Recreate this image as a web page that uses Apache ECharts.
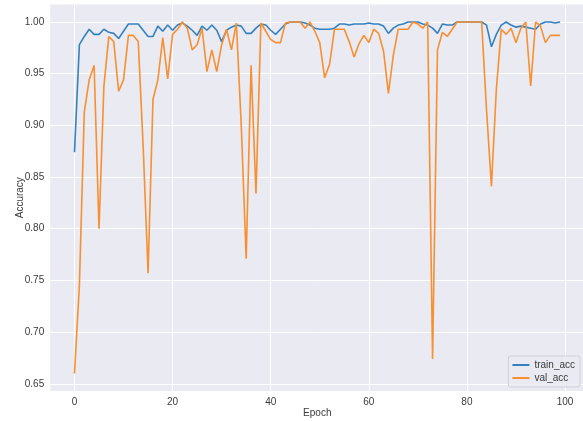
<!DOCTYPE html>
<html>
<head>
<meta charset="utf-8">
<script src="https://cdn.jsdelivr.net/npm/echarts@6/dist/echarts.min.js"></script>
<style>
  html, body { margin: 0; padding: 0; background: #ffffff; }
  #chart { width: 583px; height: 421px; }
</style>
</head>
<body>
<div id="chart"></div>
<script>
// Training history: accuracy per epoch
const epochs = Array.from({ length: 100 }, (_, i) => i);

const trainAcc = [
  0.874, 0.978, 0.986, 0.993, 0.988, 0.988, 0.993, 0.990, 0.989, 0.984,
  0.991, 0.998, 0.998, 0.998, 0.992, 0.986, 0.986, 0.996, 0.991, 0.997,
  0.992, 0.997, 0.999, 0.996, 0.992, 0.987, 0.996, 0.992, 0.997, 0.992,
  0.981, 0.992, 0.995, 0.997, 0.996, 0.989, 0.989, 0.994, 0.998, 0.997,
  0.992, 0.988, 0.993, 0.998, 1.000, 1.000, 1.000, 0.999, 0.997, 0.994,
  0.993, 0.993, 0.993, 0.994, 0.998, 0.998, 0.997, 0.998, 0.998, 0.998,
  0.999, 0.998, 0.998, 0.996, 0.989, 0.994, 0.997, 0.998, 1.000, 1.000,
  1.000, 0.998, 0.997, 0.994, 0.989, 0.998, 0.997, 0.997, 1.000, 1.000,
  1.000, 1.000, 1.000, 1.000, 0.997, 0.976, 0.988, 0.997, 1.000, 0.997,
  0.995, 0.996, 0.995, 0.994, 0.993, 0.998, 1.000, 1.000, 0.999, 1.000
];

const valAcc = [
  0.660, 0.745, 0.913, 0.944, 0.958, 0.800, 0.938, 0.986, 0.981, 0.933,
  0.944, 0.987, 0.987, 0.981, 0.880, 0.757, 0.925, 0.944, 0.985, 0.945,
  0.988, 0.993, 1.000, 0.994, 0.973, 0.978, 0.994, 0.952, 0.973, 0.952,
  0.978, 0.993, 0.973, 0.999, 0.900, 0.771, 0.958, 0.834, 0.999, 0.991,
  0.983, 0.980, 0.980, 0.999, 1.000, 1.000, 1.000, 0.994, 1.000, 0.991,
  0.980, 0.946, 0.959, 0.993, 0.993, 0.993, 0.981, 0.966, 0.979, 0.987,
  0.980, 0.993, 0.989, 0.972, 0.931, 0.968, 0.993, 0.993, 0.993, 1.000,
  0.998, 0.994, 1.000, 0.674, 0.973, 0.990, 0.986, 0.993, 1.000, 1.000,
  1.000, 1.000, 1.000, 1.000, 0.915, 0.841, 0.935, 0.993, 0.988, 0.994,
  0.980, 0.994, 1.000, 0.938, 1.000, 0.996, 0.980, 0.987, 0.987, 0.987
];

const xTicks = [0, 20, 40, 60, 80, 100];
const yTicks = [0.65, 0.70, 0.75, 0.80, 0.85, 0.90, 0.95, 1.00];

const seriesNames = ['train_acc', 'val_acc'];
const seriesColors = ['#3482bd', '#f88f30'];

// Axis limits with a 5% margin around the data, like a matplotlib autoscale
const xMin = -4.95, xMax = 103.95;
const yMin = 0.643, yMax = 1.017;

const FONT = "'Liberation Sans Narrow', 'Liberation Sans', sans-serif";
const TEXT = '#3a3a3a';

const chart = echarts.init(document.getElementById('chart'), null, { renderer: 'canvas' });

chart.setOption({
  backgroundColor: '#ffffff',
  animation: false,
  grid: {
    left: 50.2, top: 4.4, width: 534.2, height: 386.6,
    outerBoundsMode: 'none',
    containLabel: false,
    show: true, backgroundColor: '#eaeaf2', borderWidth: 0
  },
  xAxis: {
    type: 'value', min: xMin, max: xMax,
    name: 'Epoch', nameLocation: 'middle', nameGap: 17, nameMoveOverlap: false,
    nameTextStyle: { fontFamily: FONT, fontSize: 10, color: TEXT },
    axisLine: { show: false },
    axisTick: { show: false, customValues: xTicks },
    axisLabel: {
      customValues: xTicks, margin: 6,
      fontFamily: FONT, fontSize: 10, color: TEXT
    },
    splitLine: { show: true, lineStyle: { color: '#ffffff', width: 1 } }
  },
  yAxis: {
    type: 'value', min: yMin, max: yMax,
    name: 'Accuracy', nameLocation: 'middle', nameGap: 25, nameRotate: 90, nameMoveOverlap: false,
    nameTextStyle: { fontFamily: FONT, fontSize: 10, color: TEXT },
    axisLine: { show: false },
    axisTick: { show: false, customValues: yTicks },
    axisLabel: {
      customValues: yTicks, margin: 6,
      fontFamily: FONT, fontSize: 10, color: TEXT,
      formatter: v => v.toFixed(2)
    },
    splitLine: { show: true, lineStyle: { color: '#ffffff', width: 1 } }
  },
  legend: {
    orient: 'vertical',
    right: 3, bottom: 34,
    data: seriesNames,
    icon: 'rect',
    itemWidth: 17, itemHeight: 2, itemGap: 3,
    padding: [4, 5, 4, 4],
    backgroundColor: 'rgba(234,234,242,0.85)',
    borderColor: '#d0d0d8', borderWidth: 1, borderRadius: 2,
    textStyle: { fontFamily: FONT, fontSize: 10, color: TEXT }
  },
  series: seriesNames.map((name, k) => ({
    name,
    type: 'line',
    data: epochs.map((e, i) => [e, (k === 0 ? trainAcc : valAcc)[i]]),
    symbol: 'none',
    clip: false,
    color: seriesColors[k],
    lineStyle: { width: 1.6, color: seriesColors[k] }
  }))
});
</script>
</body>
</html>
